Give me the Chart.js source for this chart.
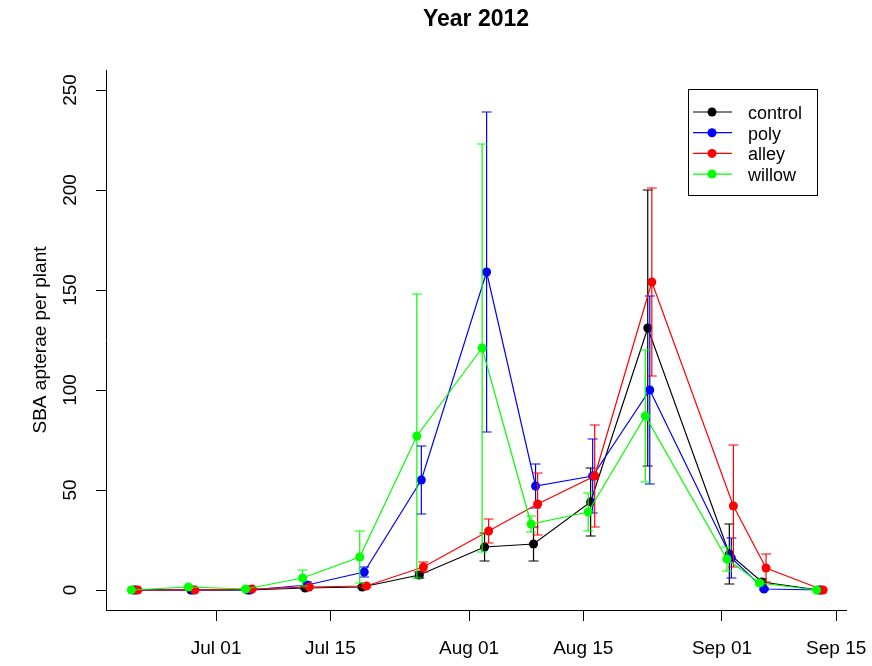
<!DOCTYPE html>
<html>
<head>
<meta charset="utf-8">
<title>Year 2012</title>
<script src="https://cdn.jsdelivr.net/npm/chart.js@4/dist/chart.umd.min.js"></script>
<style>
  html, body { margin: 0; padding: 0; background: #fff; }
  canvas { display: block; }
</style>
</head>
<body>
<canvas id="chart" width="872" height="666"></canvas>
<script>
// Sampling dates for the 2012 season
const sampleDates = ['2012-06-21', '2012-06-28', '2012-07-05', '2012-07-12', '2012-07-19', '2012-07-26',
                     '2012-08-03', '2012-08-09', '2012-08-16', '2012-08-23', '2012-09-02', '2012-09-06', '2012-09-13'];

// Mean SBA apterae per plant and standard errors, per treatment
const controlMean = [0, 0, 0, 1, 1.5, 7.5, 21.5, 23, 44, 131, 18, 4, 0];
const controlSE   = [0, 0, 0, 0.5, 0.5, 1.5, 7, 8.5, 17, 69, 15, 1.5, 0];
const polyMean    = [0, 0, 0, 2.5, 9, 55, 159, 52, 57, 100, 16, 0.5, 0];
const polySE      = [0, 0, 0, 1.5, 2.5, 17, 80, 11, 18.5, 47, 10, 0.5, 0];
const alleyMean   = [0, 0, 0.5, 1.5, 2, 11.5, 29.5, 43, 57, 154, 42, 11, 0];
const alleySE     = [0, 0, 0.3, 0.5, 0.8, 2.5, 6, 15.5, 25.5, 47, 30.5, 7, 0];
const willowMean  = [0, 1.5, 0.5, 6, 16.5, 77, 121, 33, 39, 87, 15.5, 3.5, 0];
const willowSE    = [0, 0.5, 0.3, 4, 13, 71, 102, 4, 9.5, 33, 6, 1, 0];

// Date axis ticks
const tickDates  = ['2012-07-01', '2012-07-15', '2012-08-01', '2012-08-15', '2012-09-01', '2012-09-15'];
const tickLabels = ['Jul 01', 'Jul 15', 'Aug 01', 'Aug 15', 'Sep 01', 'Sep 15'];
const yTicks     = [0, 50, 100, 150, 200, 250];

// Days since 1 July 2012
function dayOf(s) {
  const [y, m, d] = s.split('-').map(Number);
  return (Date.UTC(y, m - 1, d) - Date.UTC(2012, 6, 1)) / 86400000;
}

// Small horizontal dodge so overlapping treatments stay visible
function series(label, mean, se, color, shift, order) {
  return {
    label, se, order,
    data: mean.map((v, i) => ({ x: dayOf(sampleDates[i]) + shift, y: v })),
    borderColor: color,
    backgroundColor: color,
    borderWidth: 1.2,
    pointRadius: 4.5,
    pointBorderWidth: 0,
    pointBackgroundColor: color,
    pointHoverRadius: 4.5,
    tension: 0
  };
}

const datasets = [
  series('control', controlMean, controlSE, '#000000', -0.1, 4),
  series('poly',    polyMean,    polySE,    '#0000FF',  0.15, 3),
  series('alley',   alleyMean,   alleySE,   '#FF0000',  0.4, 2),
  series('willow',  willowMean,  willowSE,  '#00FF00', -0.4, 1)
];

// Vertical error bars (mean ± SE) with flat caps
const errorBars = {
  id: 'errorBars',
  afterDatasetDraw(chart, args) {
    const ds = chart.data.datasets[args.index];
    const yScale = chart.scales.y;
    const ctx = chart.ctx;
    ctx.save();
    ctx.strokeStyle = ds.borderColor;
    ctx.lineWidth = 1.2;
    args.meta.data.forEach((pt, i) => {
      const e = ds.se[i];
      if (!e) return;
      const v = ds.data[i].y;
      const x = pt.x;
      const yLo = yScale.getPixelForValue(v - e);
      const yHi = yScale.getPixelForValue(v + e);
      ctx.beginPath();
      ctx.moveTo(x, yLo); ctx.lineTo(x, yHi);
      ctx.moveTo(x - 5, yLo); ctx.lineTo(x + 5, yLo);
      ctx.moveTo(x - 5, yHi); ctx.lineTo(x + 5, yHi);
      ctx.stroke();
    });
    ctx.restore();
  }
};

// Boxed legend with line-and-dot keys
const boxLegend = {
  id: 'boxLegend',
  afterDraw(chart) {
    const ctx = chart.ctx;
    const left = 688, top = 89, w = 129, h = 106;
    ctx.save();
    ctx.fillStyle = '#fff';
    ctx.fillRect(left, top, w, h);
    ctx.strokeStyle = '#000';
    ctx.lineWidth = 1;
    ctx.strokeRect(left + 0.5, top + 0.5, w, h);
    ctx.font = '18px "Liberation Sans", Arial, sans-serif';
    ctx.textBaseline = 'middle';
    ctx.textAlign = 'left';
    chart.data.datasets.forEach((ds, i) => {
      const y = top + 23 + i * 20.7;
      ctx.strokeStyle = ds.borderColor;
      ctx.lineWidth = 1.2;
      ctx.beginPath();
      ctx.moveTo(left + 5, y); ctx.lineTo(left + 44, y);
      ctx.stroke();
      ctx.fillStyle = ds.borderColor;
      ctx.beginPath();
      ctx.arc(left + 24, y, 4.5, 0, Math.PI * 2);
      ctx.fill();
      ctx.fillStyle = '#000';
      ctx.fillText(ds.label, left + 60, y + 2);
    });
    ctx.restore();
  }
};

Chart.defaults.font.family = '"Liberation Sans", Arial, sans-serif';
Chart.defaults.color = '#000';

new Chart(document.getElementById('chart'), {
  type: 'line',
  data: { datasets },
  plugins: [errorBars, boxLegend],
  options: {
    responsive: false,
    devicePixelRatio: 1,
    animation: false,
    events: [],
    layout: { padding: { left: 0, right: 26, top: 0, bottom: 0 } },
    plugins: {
      legend: { display: false },
      tooltip: { enabled: false },
      title: {
        display: true,
        text: 'Year 2012',
        fullSize: false,
        color: '#000',
        font: { size: 23, weight: 'bold', lineHeight: 1.2 },
        padding: { top: 6, bottom: 36.4 }
      }
    },
    scales: {
      x: {
        type: 'linear',
        min: -13.5,
        max: 77.2,
        grid: { display: true, drawOnChartArea: false, drawTicks: true, tickLength: 11, color: '#000', lineWidth: 1 },
        border: { display: true, color: '#000', width: 1 },
        ticks: {
          autoSkip: false, maxRotation: 0, minRotation: 0, padding: 16,
          font: { size: 19 }, color: '#000',
          callback: (v, i) => tickLabels[i]
        },
        afterBuildTicks: s => { s.ticks = tickDates.map(d => ({ value: dayOf(d) })); },
        afterFit: s => { s.height = 56; s.paddingLeft = 0; s.paddingRight = 0; }
      },
      y: {
        type: 'linear',
        min: -10,
        max: 260,
        grid: { display: true, drawOnChartArea: false, drawTicks: true, tickLength: 10, color: '#000', lineWidth: 1 },
        border: { display: true, color: '#000', width: 1 },
        ticks: {
          minRotation: 90, maxRotation: 90, crossAlign: 'center', padding: 9,
          font: { size: 19 }, color: '#000'
        },
        title: {
          display: true,
          text: 'SBA apterae per plant',
          color: '#000',
          font: { size: 19, lineHeight: 1.2 },
          padding: { top: 29, bottom: 0 }
        },
        afterBuildTicks: s => { s.ticks = yTicks.map(v => ({ value: v })); },
        afterFit: s => { s.width = 106; s.paddingTop = 0; s.paddingBottom = 0; }
      }
    }
  }
});
</script>
</body>
</html>
